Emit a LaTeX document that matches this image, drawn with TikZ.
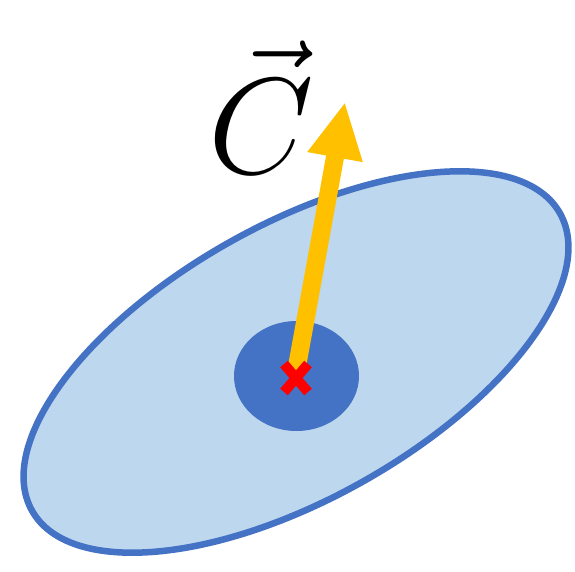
\documentclass[tikz,border=0pt]{standalone}
\usetikzlibrary{arrows.meta}
\definecolor{lightfill}{HTML}{BDD7EE}
\definecolor{edgeblue}{HTML}{4472C4}
\definecolor{arrowyellow}{HTML}{FFC000}
\definecolor{markred}{HTML}{FF0000}
\tikzset{
  outerblob/.style={fill=lightfill, draw=edgeblue, line width=6.5pt},
  innerblob/.style={fill=edgeblue, draw=none},
  vecarrow/.style={draw=arrowyellow, line width=18pt, -{Triangle[width=52pt,length=56pt]}},
  crossmark/.style={draw=markred, line width=10pt},
}
\begin{document}
\begin{tikzpicture}[x=1pt,y=1pt]
\useasboundingbox (0,0) rectangle (575,571);
\draw[outerblob] (296,209) ellipse[x radius=303, y radius=137, rotate=29.4];
\fill[innerblob] (296.5,195) ellipse[x radius=62.5, y radius=55];
\coordinate (o) at (296,199);
\coordinate (tip) at (345,469);
\draw[vecarrow] (o) -- (tip);
\coordinate (x) at (296,193);
\draw[crossmark] ([shift={(-12,-14)}]x) -- ([shift={(12,14)}]x);
\draw[crossmark] ([shift={(-12,14)}]x) -- ([shift={(12,-14)}]x);
\node[scale=5.5, inner sep=0pt] (lbl) at (261,464) {\Huge$\vec{C}$};
\end{tikzpicture}
\end{document}
